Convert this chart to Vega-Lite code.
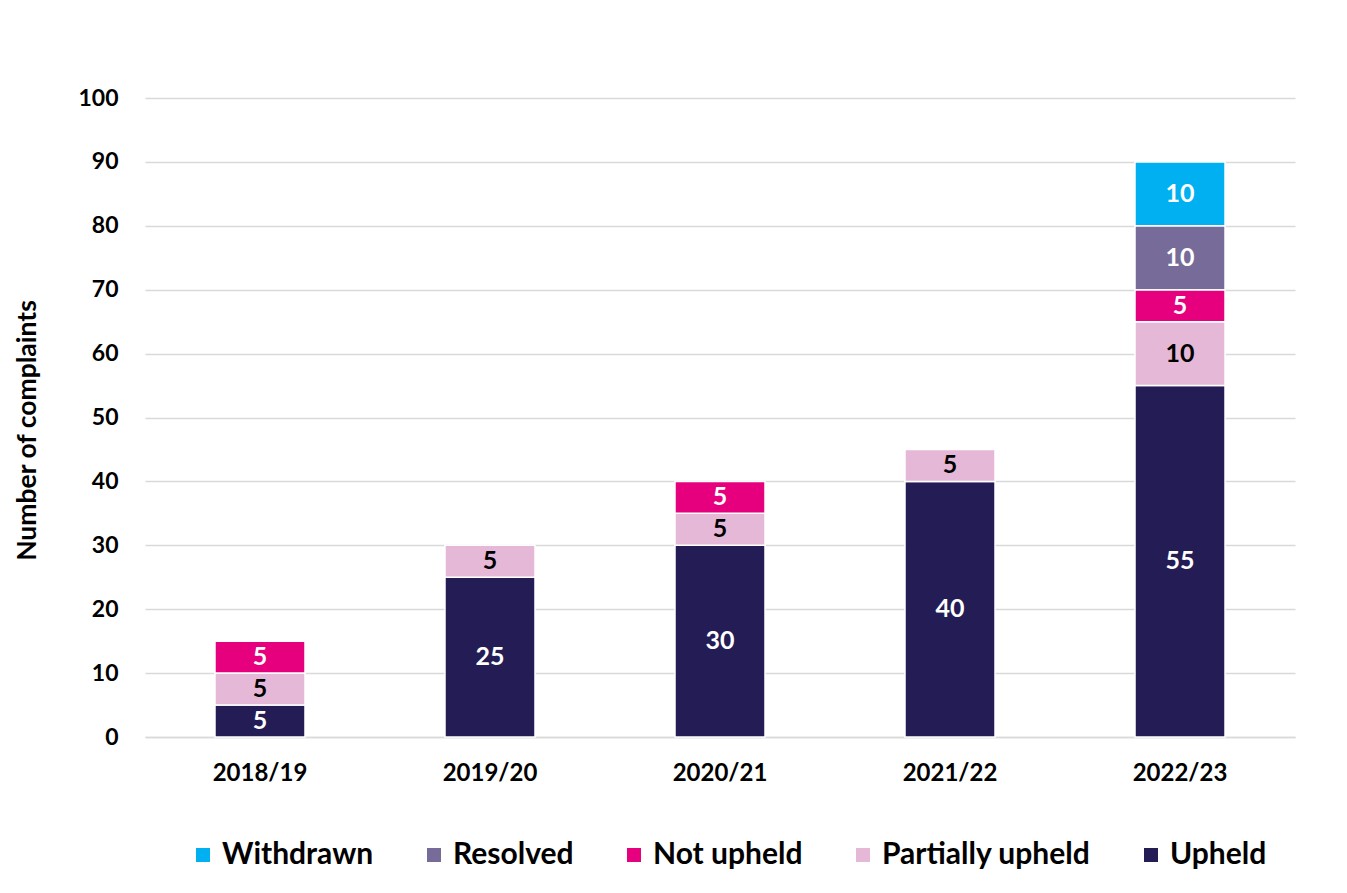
{
  "$schema": "https://vega.github.io/schema/vega-lite/v6.json",
  "autosize": {"type": "none"},
  "width": 1150,
  "height": 639,
  "padding": {"left": 145, "top": 98, "right": 52, "bottom": 156},
  "background": "white",
  "config": {
    "font": "Lato",
    "view": {"stroke": null}
  },
  "data": {
    "values": [
      {"year": "2018/19", "status": "Upheld", "order": 1, "count": 5},
      {"year": "2018/19", "status": "Partially upheld", "order": 2, "count": 5},
      {"year": "2018/19", "status": "Not upheld", "order": 3, "count": 5},
      {"year": "2019/20", "status": "Upheld", "order": 1, "count": 25},
      {"year": "2019/20", "status": "Partially upheld", "order": 2, "count": 5},
      {"year": "2020/21", "status": "Upheld", "order": 1, "count": 30},
      {"year": "2020/21", "status": "Partially upheld", "order": 2, "count": 5},
      {"year": "2020/21", "status": "Not upheld", "order": 3, "count": 5},
      {"year": "2021/22", "status": "Upheld", "order": 1, "count": 40},
      {"year": "2021/22", "status": "Partially upheld", "order": 2, "count": 5},
      {"year": "2022/23", "status": "Upheld", "order": 1, "count": 55},
      {"year": "2022/23", "status": "Partially upheld", "order": 2, "count": 10},
      {"year": "2022/23", "status": "Not upheld", "order": 3, "count": 5},
      {"year": "2022/23", "status": "Resolved", "order": 4, "count": 10},
      {"year": "2022/23", "status": "Withdrawn", "order": 5, "count": 10}
    ]
  },
  "transform": [
    {"stack": "count", "groupby": ["year"], "sort": [{"field": "order", "order": "ascending"}], "as": ["y0", "y1"]},
    {"calculate": "(datum.y0 + datum.y1) / 2", "as": "ymid"}
  ],
  "encoding": {
    "x": {
      "field": "year",
      "type": "nominal",
      "scale": {"paddingInner": 0.6087, "paddingOuter": 0.3043},
      "axis": {
        "title": null,
        "labelAngle": 0,
        "labelFont": "Lato",
        "labelFontSize": 24,
        "labelFontWeight": "bold",
        "labelColor": "#000000",
        "labelPadding": 24,
        "ticks": false,
        "domainColor": "#d9d9d9",
        "domainWidth": 1.5
      }
    }
  },
  "layer": [
    {
      "mark": {"type": "bar", "stroke": "white", "strokeWidth": 1.5},
      "encoding": {
        "y": {
          "field": "y0",
          "type": "quantitative",
          "scale": {"domain": [0, 100]},
          "axis": {
            "title": "Number of complaints",
            "titleFont": "Lato",
            "titleFontSize": 26.5,
            "titleFontWeight": "bold",
            "titleColor": "#000000",
            "titlePadding": 36,
            "titleY": 332,
            "titleAlign": "center",
            "values": [0, 10, 20, 30, 40, 50, 60, 70, 80, 90, 100],
            "labelFont": "Lato",
            "labelFontSize": 23,
            "labelFontWeight": "bold",
            "labelColor": "#000000",
            "labelPadding": 27,
            "ticks": false,
            "domain": false,
            "gridColor": "#d9d9d9",
            "gridWidth": 1.5
          }
        },
        "y2": {"field": "y1"},
        "color": {
          "field": "status",
          "type": "nominal",
          "scale": {
            "domain": ["Withdrawn", "Resolved", "Not upheld", "Partially upheld", "Upheld"],
            "range": ["#00B0F0", "#776C99", "#E6007E", "#E6B8D7", "#241C55"]
          },
          "legend": {
            "title": null,
            "orient": "none",
            "direction": "horizontal",
            "legendX": 43,
            "legendY": 742,
            "symbolType": "square",
            "symbolSize": 196,
            "symbolStrokeWidth": 0,
            "labelFont": "Lato",
            "labelFontSize": 30,
            "labelFontWeight": "bold",
            "labelColor": "#000000",
            "labelLimit": 0,
            "columnPadding": 45,
            "labelOffset": 4
          }
        }
      }
    },
    {
      "mark": {"type": "text", "font": "Lato", "fontSize": 25, "fontWeight": "bold", "baseline": "middle"},
      "encoding": {
        "y": {"field": "ymid", "type": "quantitative"},
        "text": {"field": "count", "type": "quantitative"},
        "color": {
          "condition": {"test": "datum.status === 'Partially upheld'", "value": "#000000"},
          "value": "#ffffff"
        }
      }
    }
  ]
}
